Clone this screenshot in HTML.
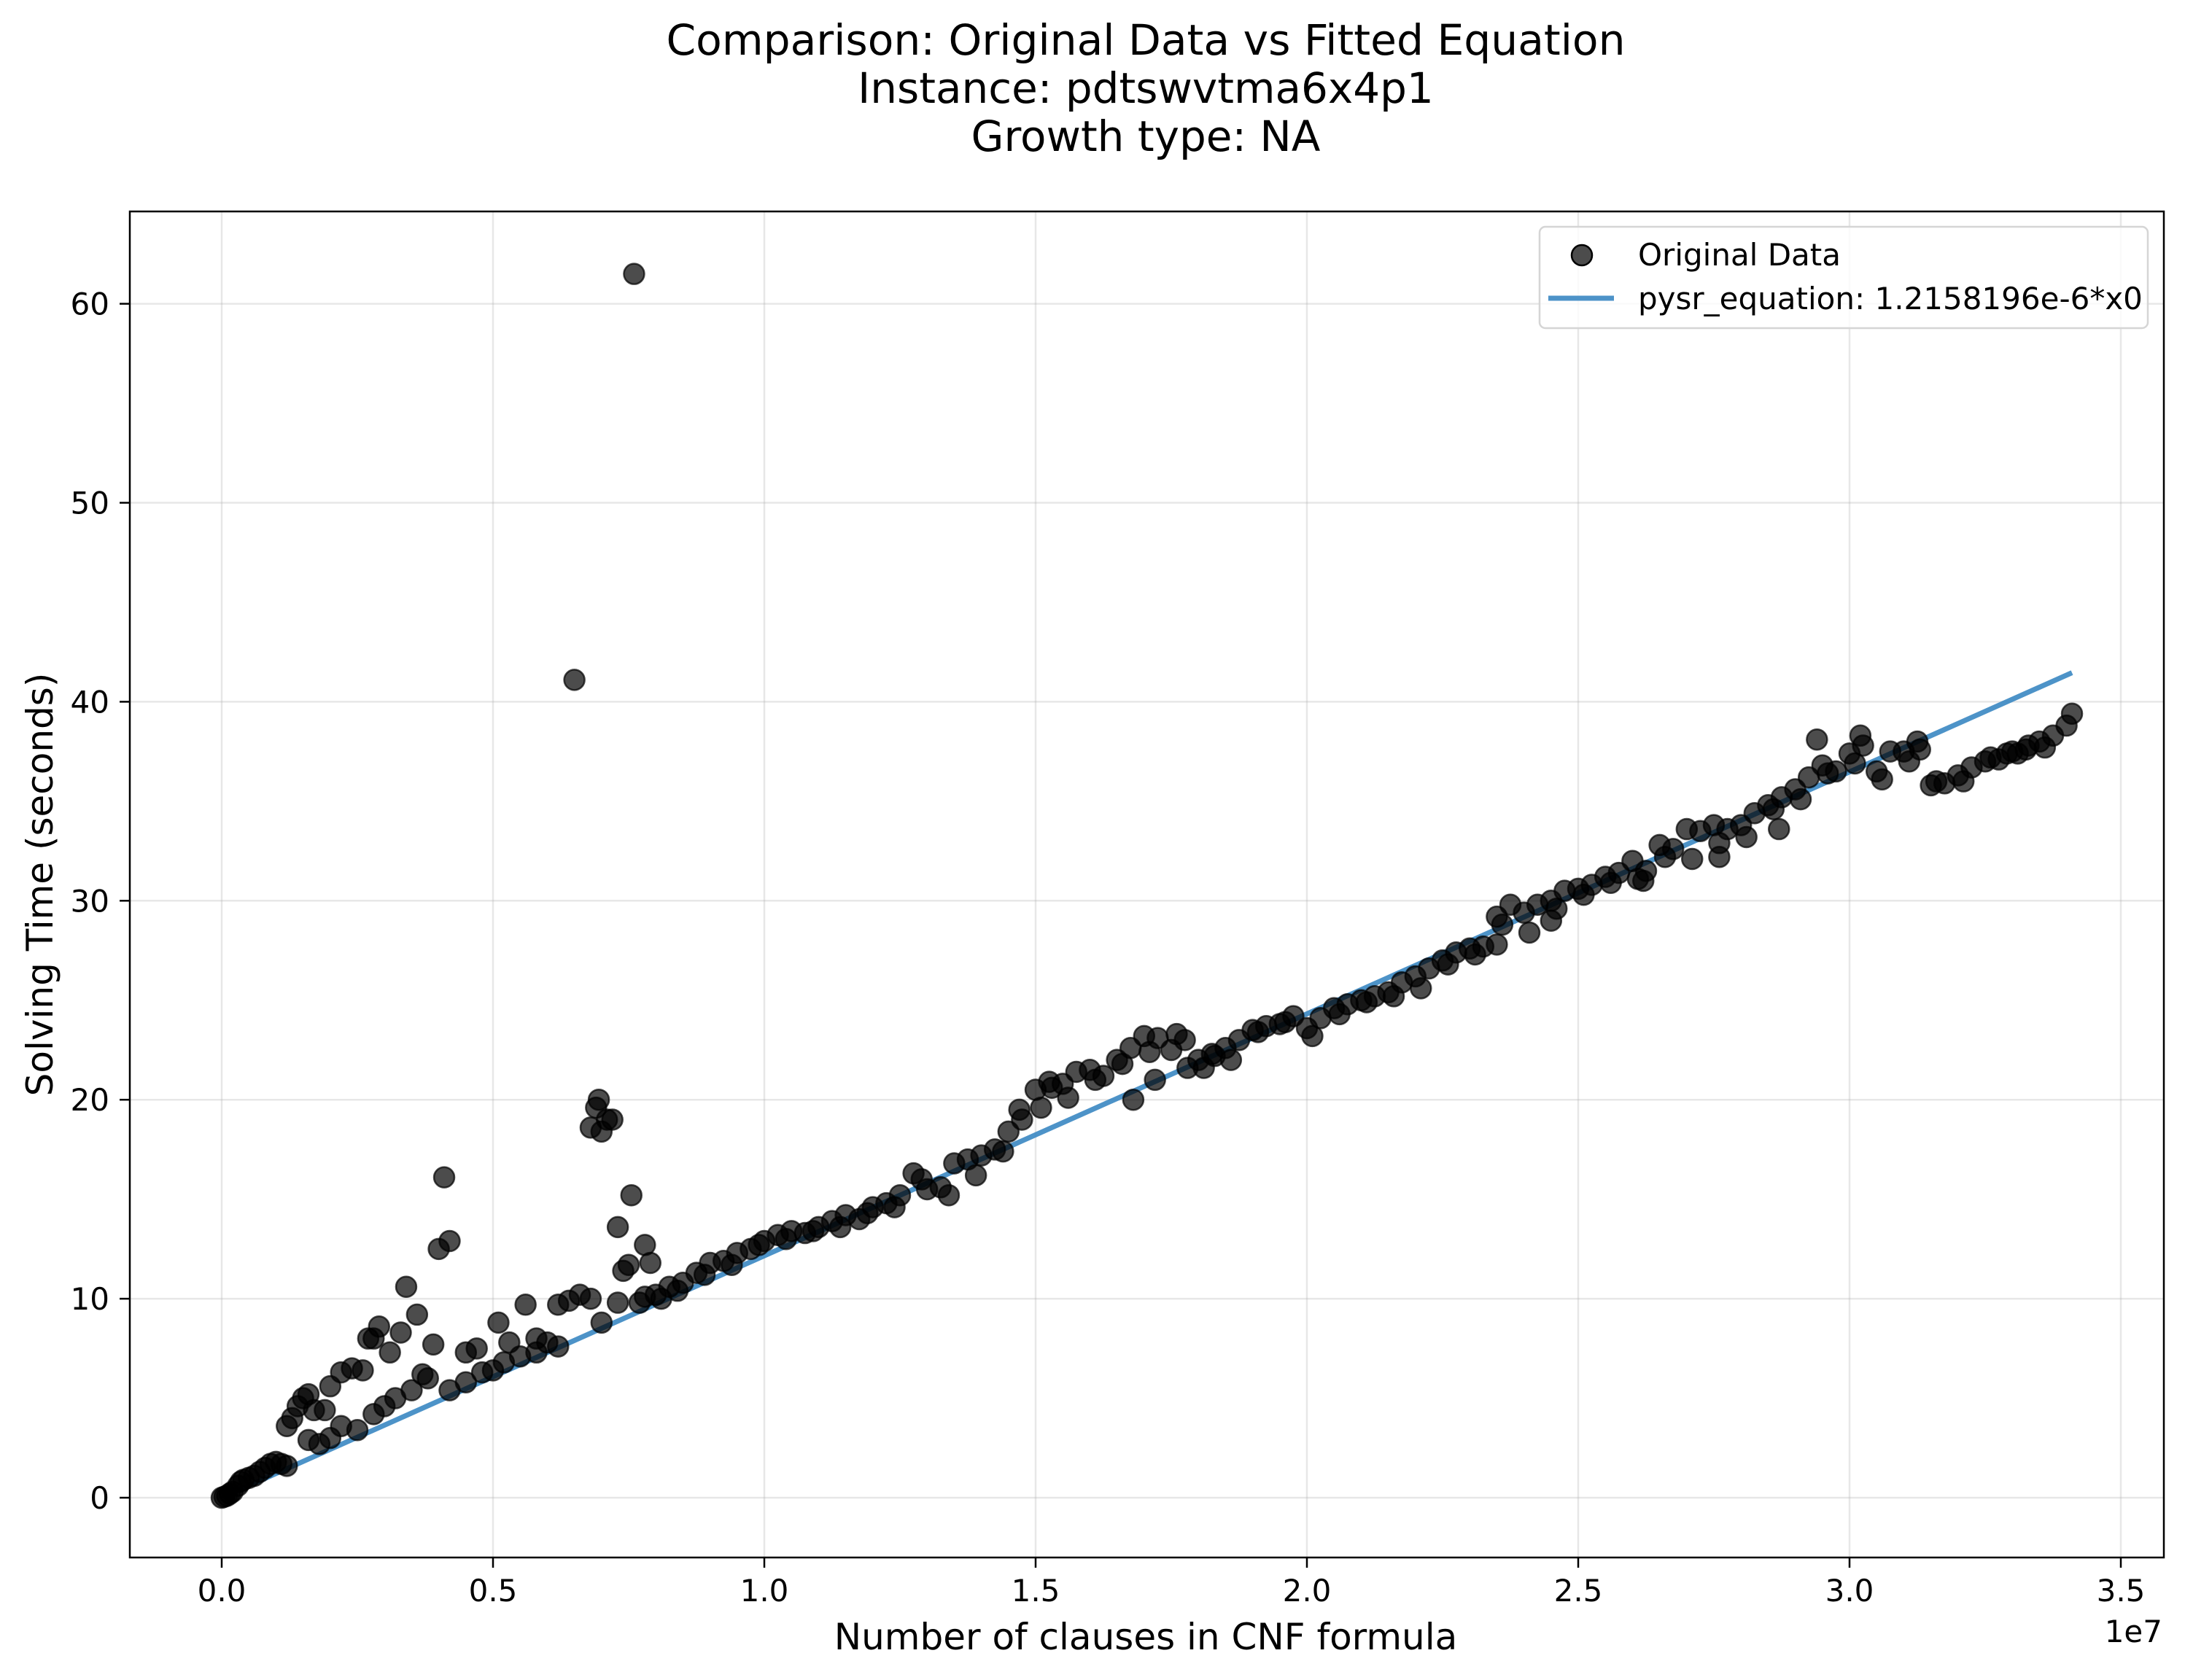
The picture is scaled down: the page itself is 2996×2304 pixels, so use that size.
<!DOCTYPE html>
<html><head><meta charset="utf-8"><style>
html,body{margin:0;padding:0;background:#fff;}
svg{display:block;font-family:"DejaVu Sans","Liberation Sans",sans-serif;}
</style></head><body>
<svg id="chart" width="2996" height="2304" viewBox="0 0 2996 2304" xmlns="http://www.w3.org/2000/svg">
<rect width="2996" height="2304" fill="#fff"/>
<g font-size="58" text-anchor="middle" fill="#000">
<text x="1571" y="75" textLength="1315" lengthAdjust="spacingAndGlyphs">Comparison: Original Data vs Fitted Equation</text>
<text x="1571" y="141">Instance: pdtswvtma6x4p1</text>
<text x="1571" y="207">Growth type: NA</text>
</g>
<g id="grid"></g>
<g id="ticks"></g>
<g id="fit"></g>
<g id="pts"></g>
<rect x="178" y="290" width="2789" height="1846" fill="none" stroke="#000" stroke-width="2.5"/>
<text x="1571" y="2262" font-size="50" text-anchor="middle">Number of clauses in CNF formula</text>
<text x="2965" y="2252" font-size="42" text-anchor="end">1e7</text>
<text transform="translate(72,1213) rotate(-90)" font-size="50" text-anchor="middle">Solving Time (seconds)</text>
<g>
<rect x="2111" y="311" width="834" height="139" rx="8" fill="#fff" fill-opacity="0.8" stroke="#d5d5d5" stroke-width="2.5"/>
<circle cx="2169" cy="350" r="14" fill="#000" fill-opacity="0.7" stroke="#000" stroke-width="2.5"/>
<text x="2246" y="364" font-size="42">Original Data</text>
<line x1="2123" y1="409" x2="2213" y2="409" stroke="#3a87c2" stroke-opacity="0.9" stroke-width="7"/>
<text x="2246" y="424" font-size="42">pysr_equation: 1.2158196e-6*x0</text>
</g>
</svg>
<script>
// x values in millions of clauses, y in seconds
const xVals = [0,0.05,0.1,0.15,0.2,0.3,0.35,0.4,0.5,0.6,0.7,0.8,0.9,1.0,1.1,1.2,
 1.6,1.8,2.0,2.2,2.5,2.8,3.0,3.2,3.5,3.8,4.2,4.5,4.8,5.0,5.2,5.5,5.8,6.0,6.2,
 1.2,1.3,1.4,1.5,1.6,1.7,1.9,2.0,2.2,2.4,2.6,2.7,2.8,2.9,3.1,3.3,3.4,3.6,3.7,3.9,4.0,4.1,4.2,4.5,4.7,5.1,5.3,5.6,5.8,6.2,6.4,6.5,6.6,6.8,6.8,6.9,6.95,7.0,7.1,7.2,7.0,7.3,7.3,7.4,7.5,7.55,7.6,7.7,7.8,7.8,7.9,
 8.0,8.25,8.5,8.75,9.0,9.25,9.5,9.75,10.0,10.25,10.5,10.75,11.0,11.25,11.5,11.75,12.0,12.25,12.5,12.75,13.0,13.25,13.5,13.75,14.0,14.25,14.5,14.75,15.0,15.25,15.5,15.75,16.0,16.25,16.5,16.75,17.0,17.25,17.5,17.75,18.0,18.25,18.5,18.75,19.0,19.25,19.5,19.75,20.0,20.25,20.5,20.75,21.0,21.25,21.5,21.75,22.0,22.25,22.5,22.75,23.0,23.25,23.5,23.75,24.0,24.25,24.5,24.75,25.0,25.25,25.5,25.75,26.0,26.25,26.5,26.75,27.0,27.25,27.5,27.75,28.0,28.25,28.5,28.75,29.0,29.25,29.5,29.75,30.0,30.25,30.5,30.75,31.0,31.25,31.5,31.75,32.0,32.25,32.5,32.75,33.0,33.25,33.5,33.75,34.0,34.1,
 14.7,15.3,16.8,17.2,17.8,18.3,23.5,24.5,26.2,27.6,28.7,29.4,30.2,31.3,32.9,33.3,
 8.1,8.4,8.9,9.4,9.9,10.4,10.9,11.4,11.9,12.4,12.9,13.4,13.9,14.4,15.1,15.6,16.1,16.6,17.1,17.6,18.1,18.6,19.1,19.6,20.1,20.6,21.1,21.6,22.1,22.6,23.1,23.6,24.1,24.6,25.1,25.6,26.1,26.6,27.1,27.6,28.1,28.6,29.1,29.6,30.1,30.6,31.1,31.6,32.1,32.6,33.1,33.6];
const yVals = [0,0.05,0.1,0.2,0.3,0.6,0.8,0.9,1.0,1.1,1.3,1.5,1.7,1.8,1.7,1.6,
 2.9,2.7,3.0,3.6,3.4,4.2,4.6,5.0,5.4,6.0,5.4,5.8,6.3,6.4,6.8,7.1,7.3,7.8,7.6,
 3.6,4.0,4.6,5.0,5.2,4.4,4.4,5.6,6.3,6.5,6.4,8.0,8.0,8.6,7.3,8.3,10.6,9.2,6.2,7.7,12.5,16.1,12.9,7.3,7.5,8.8,7.8,9.7,8.0,9.7,9.9,41.1,10.2,10.0,18.6,19.6,20.0,18.4,19.0,19.0,8.8,9.8,13.6,11.4,11.7,15.2,61.5,9.8,10.1,12.7,11.8,
 10.2,10.6,10.8,11.3,11.8,11.9,12.3,12.5,12.9,13.2,13.4,13.3,13.6,13.9,14.2,14.0,14.6,14.8,15.2,16.3,15.5,15.6,16.8,17.0,17.2,17.5,18.4,19.0,20.5,20.9,20.8,21.4,21.5,21.2,22.0,22.6,23.2,23.1,22.5,23.0,22.0,22.3,22.6,23.0,23.5,23.7,23.8,24.2,23.6,24.1,24.6,24.8,25.0,25.2,25.4,25.9,26.2,26.6,27.0,27.4,27.6,27.7,29.2,29.8,29.4,29.8,30.0,30.5,30.6,30.8,31.2,31.4,32.0,31.5,32.8,32.6,33.6,33.5,33.8,33.6,33.8,34.4,34.8,35.2,35.6,36.2,36.8,36.5,37.4,37.8,36.5,37.5,37.5,38.0,35.8,35.9,36.3,36.7,37.0,37.1,37.5,37.6,38.0,38.3,38.8,39.4,
 19.5,20.6,20.0,21.0,21.6,22.2,27.8,29.0,31.0,32.2,33.6,38.1,38.3,37.6,37.4,37.8,
 10.0,10.4,11.2,11.7,12.7,13.0,13.4,13.6,14.3,14.6,16.0,15.2,16.2,17.4,19.6,20.1,21.0,21.8,22.4,23.3,21.6,22.0,23.4,23.9,23.2,24.3,24.9,25.2,25.6,26.8,27.3,28.8,28.4,29.6,30.3,30.9,31.1,32.2,32.1,32.9,33.2,34.6,35.1,36.4,36.9,36.1,37.0,36.0,36.0,37.2,37.4,37.7];
const fitCoef = 1.2158196;   // seconds per million clauses
const fitRange = [0.1, 34.1];
const xTickVals = [0,5,10,15,20,25,30,35];
const xTickLabels = ["0.0","0.5","1.0","1.5","2.0","2.5","3.0","3.5"];
const yTickVals = [0,10,20,30,40,50,60];
const yTickLabels = ["0","10","20","30","40","50","60"];

const NS="http://www.w3.org/2000/svg";
const X0=304, XPER=74.4, Y0=2054, YPER=27.29;
function sx(v){return X0+v*XPER;}
function sy(v){return Y0-v*YPER;}
function mk(t,a,p){const e=document.createElementNS(NS,t);for(const k in a)e.setAttribute(k,a[k]);p.appendChild(e);return e;}
const grid=document.getElementById('grid'),ticks=document.getElementById('ticks');
xTickVals.forEach((v,i)=>{
 const g=mk('line',{x1:sx(v),x2:sx(v),y1:290,y2:2136,stroke:'#b0b0b0','stroke-opacity':0.3,'stroke-width':2.5},grid);
 
 
 const t=mk('line',{x1:sx(v),x2:sx(v),y1:2136,y2:2150,stroke:'#000','stroke-width':2.5},ticks);
 
 
 const l=mk('text',{x:sx(v),y:2196,'font-size':42,'text-anchor':'middle'},ticks);
 l.textContent=xTickLabels[i];
 
 
});
yTickVals.forEach((v,i)=>{
 const g=mk('line',{x1:178,x2:2967,y1:sy(v),y2:sy(v),stroke:'#b0b0b0','stroke-opacity':0.3,'stroke-width':2.5},grid);
 
 
 const t=mk('line',{x1:164,x2:178,y1:sy(v),y2:sy(v),stroke:'#000','stroke-width':2.5},ticks);
 
 
 const l=mk('text',{x:150,y:sy(v)+15,'font-size':42,'text-anchor':'end'},ticks);
 l.textContent=yTickLabels[i];
 
 
});
const fl=mk('line',{x1:sx(fitRange[0]),y1:sy(fitRange[0]*fitCoef),x2:sx(fitRange[1]),y2:sy(fitRange[1]*fitCoef),stroke:'#3a87c2','stroke-opacity':0.9,'stroke-width':7},document.getElementById('fit'));


const pts=document.getElementById('pts');
xVals.forEach((x,i)=>{
 const c=mk('circle',{cx:sx(x),cy:sy(yVals[i]),r:14,fill:'#000','fill-opacity':0.7,stroke:'#000','stroke-opacity':0.7,'stroke-width':2.5},pts);
 
 
});
</script>
</body></html>
